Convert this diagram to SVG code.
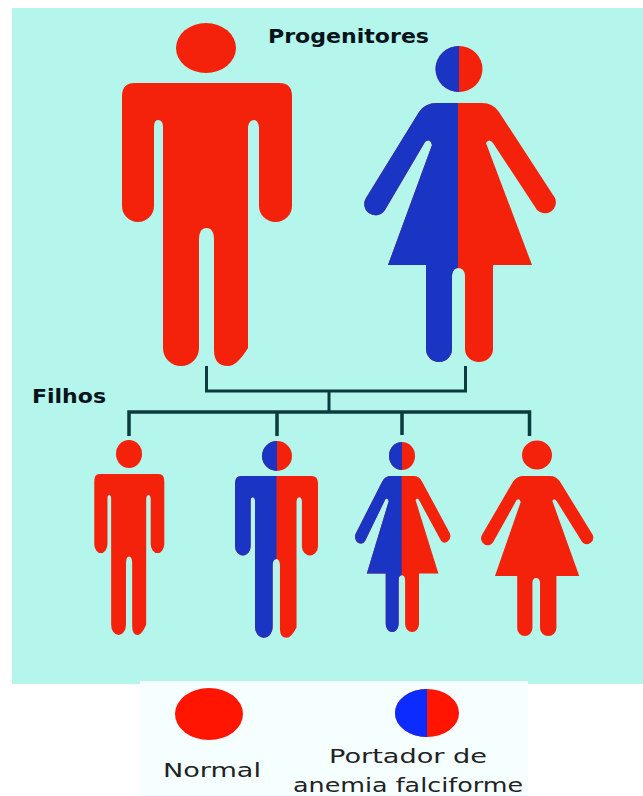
<svg xmlns="http://www.w3.org/2000/svg" xmlns:xlink="http://www.w3.org/1999/xlink" width="643" height="796" viewBox="0 0 643 796">
<style>
.red{fill:#f4210b}
.blue{fill:#1a35c4}
.lred{fill:#ff1500}
.lblue{fill:#0c2cff}
.link{fill:none;stroke:#0b3b3c;stroke-linejoin:miter}
.title{font-family:"DejaVu Sans",sans-serif;font-weight:700;font-size:20px;fill:#06141a}
.leg{font-family:"DejaVu Sans",sans-serif;font-size:20px;fill:#222}
</style>
<defs>
<path id="man" d="M135 83H279Q292 83 292 96V206A16.500 16 0 0 1 259 206V127Q258 120 254 120Q249 120 248 127V348Q237 366 228 366Q214 366 214 350V240Q214 228 206.500 228Q199 228 199 240V348A18 18 0 0 1 163 348V127Q163 120 158 120Q154 120 154 127V206A16 16 0 0 1 122 206V96Q122 83 135 83Z"/>
<path id="woman" d="M437 103H482Q493 103 499 112L555 198A11 11 0 0 1 537 210L493 143Q489 138 486 143L532 265H493V349A14 13 0 0 1 465 349V275Q464 268 458 268Q453 268 452 275V349A13 13 0 0 1 426 349V265H388L432 145Q430 138 425 142L385 210A10.500 10.500 0 0 1 366 198L419 112Q425 103 437 103Z"/>
<clipPath id="manLeft"><rect x="100" y="60" width="107" height="330"/></clipPath>
<clipPath id="womanLeft"><rect x="340" y="80" width="118" height="300"/></clipPath>
</defs>
<rect width="643" height="796" fill="#ffffff"/>
<rect x="12" y="8" width="631" height="676" fill="#b4f5ec"/>
<g id="connectors">
<path class="link" stroke-width="3" d="M206.500 366V391H465.500V366"/>
<path class="link" stroke-width="3" d="M329 391V412"/>
<path class="link" stroke-width="3.500" d="M129 436V412H529.500V436M277 412V436M402 412V435"/>
</g>
<g id="parent-father">
<ellipse class="red" cx="206" cy="48" rx="30" ry="25"/>
<use href="#man" class="red"/>
</g>
<g id="parent-mother">
<ellipse class="red" cx="459" cy="69" rx="23.500" ry="23"/>
<path class="blue" d="M459 46A23.500 23 0 0 0 459 92Z"/>
<use href="#woman" class="red"/>
<use href="#woman" class="blue" clip-path="url(#womanLeft)"/>
</g>
<g id="child-son-normal">
<ellipse class="red" cx="129" cy="454" rx="13" ry="14"/>
<use href="#man" class="red" transform="translate(44 426.800) scale(.412 .569)"/>
</g>
<g id="child-son-carrier">
<ellipse class="red" cx="277" cy="456" rx="15" ry="15"/>
<path class="blue" d="M277 441A15 15 0 0 0 277 471Z"/>
<g transform="translate(175.500 428.500) scale(.488 .572)">
<use href="#man" class="red"/>
<use href="#man" class="blue" clip-path="url(#manLeft)"/>
</g>
</g>
<g id="child-daughter-carrier">
<ellipse class="red" cx="402" cy="456" rx="13" ry="14"/>
<path class="blue" d="M402 442A13 14 0 0 0 402 470Z"/>
<g transform="translate(174 414) scale(.497 .602)">
<use href="#woman" class="red"/>
<use href="#woman" class="blue" clip-path="url(#womanLeft)"/>
</g>
</g>
<g id="child-daughter-normal">
<ellipse class="red" cx="537" cy="455" rx="15" ry="14.500"/>
<use href="#woman" class="red" transform="translate(268 412.300) scale(.585 .618)"/>
</g>
<g id="labels">
<text class="title" x="268" y="43" textLength="161" lengthAdjust="spacingAndGlyphs">Progenitores</text>
<text class="title" x="32" y="403" textLength="74" lengthAdjust="spacingAndGlyphs">Filhos</text>
</g>
<g id="legend">
<rect x="140" y="681" width="388" height="115" fill="#f5ffff"/>
<g id="legend-normal">
<ellipse class="lred" cx="209" cy="714" rx="34" ry="26"/>
<text class="leg" x="163" y="777" textLength="98" lengthAdjust="spacingAndGlyphs">Normal</text>
</g>
<g id="legend-carrier">
<ellipse class="lred" cx="427" cy="713" rx="32" ry="24"/>
<path class="lblue" d="M427 689A32 24 0 0 0 427 737Z"/>
<text class="leg" x="329" y="763" textLength="158" lengthAdjust="spacingAndGlyphs">Portador de</text>
<text class="leg" x="293" y="792" textLength="230" lengthAdjust="spacingAndGlyphs">anemia falciforme</text>
</g>
</g>
</svg>
